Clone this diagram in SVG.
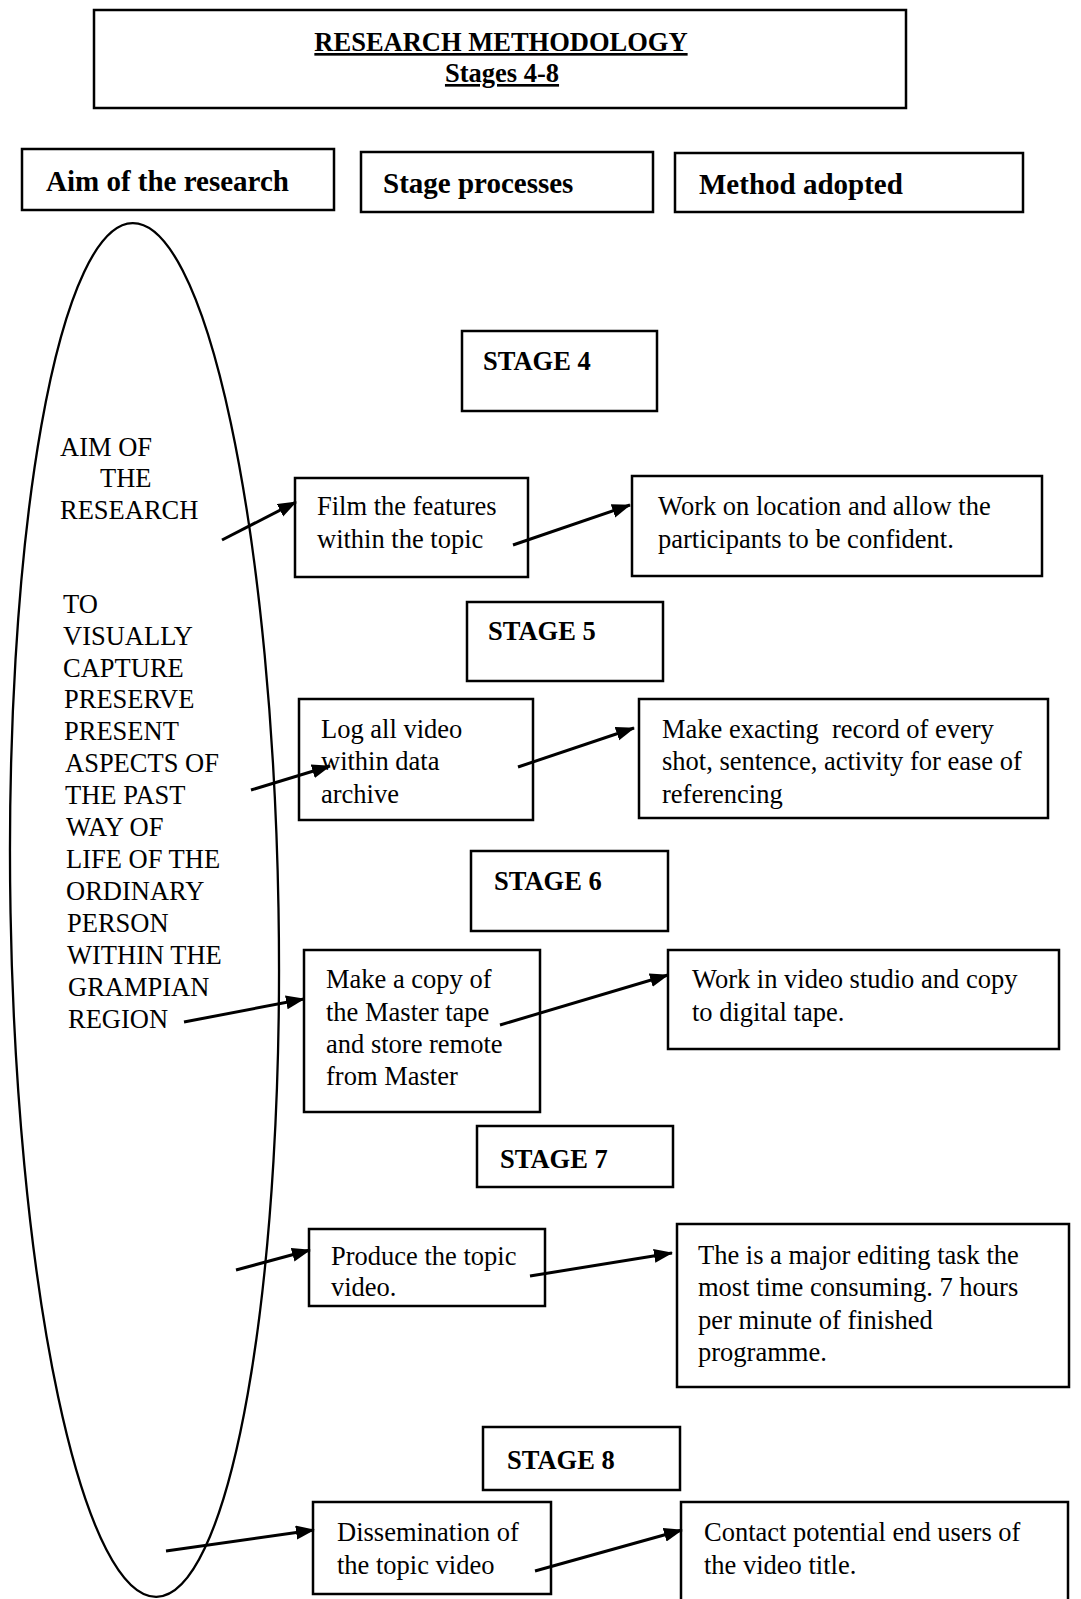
<svg xmlns="http://www.w3.org/2000/svg" width="1081" height="1599" viewBox="0 0 1081 1599">
<style>
.box{fill:#fff;stroke:#000;stroke-width:2.5}
.t{font-family:"Liberation Serif","Times New Roman",serif;font-size:26.5px;fill:#000}
.b{font-family:"Liberation Serif","Times New Roman",serif;font-size:26.5px;font-weight:bold;fill:#000}
.h{font-family:"Liberation Serif","Times New Roman",serif;font-size:29px;font-weight:bold;fill:#000}
.arr{stroke:#000;stroke-width:3;fill:none;marker-end:url(#ah)}
</style>
<defs>
<marker id="ah" markerUnits="userSpaceOnUse" markerWidth="20" markerHeight="16" refX="18" refY="7" orient="auto">
<path d="M0,0 L19,7 L0,14 z" fill="#000"/>
</marker>
</defs>
<rect width="1081" height="1599" fill="#fff"/>

<g id="title">
<rect class="box" x="94" y="10" width="812" height="98"/>
<text class="b" x="501" y="51" text-anchor="middle" text-decoration="underline" font-size="27">RESEARCH METHODOLOGY</text>
<text class="b" x="502" y="82" text-anchor="middle" text-decoration="underline" font-size="27">Stages 4-8</text>
</g>

<g id="hdr-aim">
<rect class="box" x="22" y="149" width="312" height="61"/>
<text class="h" x="46" y="191">Aim of the research</text>
</g>
<g id="hdr-stage">
<rect class="box" x="361" y="152" width="292" height="60"/>
<text class="h" x="383" y="193">Stage processes</text>
</g>
<g id="hdr-method">
<rect class="box" x="675" y="153" width="348" height="59"/>
<text class="h" x="699" y="194">Method adopted</text>
</g>

<g id="aim">
<ellipse cx="144.5" cy="910" rx="134" ry="687" fill="none" stroke="#000" stroke-width="2.3" transform="rotate(-1 144.5 910)"/>
<text class="t" x="60" y="456">AIM OF</text>
<text class="t" x="100" y="487">THE</text>
<text class="t" x="60" y="519">RESEARCH</text>
<text class="t" x="63" y="613">TO</text>
<text class="t" x="63" y="645">VISUALLY</text>
<text class="t" x="63" y="677">CAPTURE</text>
<text class="t" x="64" y="708">PRESERVE</text>
<text class="t" x="64" y="740">PRESENT</text>
<text class="t" x="65" y="772">ASPECTS OF</text>
<text class="t" x="65" y="804">THE PAST</text>
<text class="t" x="66" y="836">WAY OF</text>
<text class="t" x="66" y="868">LIFE OF THE</text>
<text class="t" x="66" y="900">ORDINARY</text>
<text class="t" x="67" y="932">PERSON</text>
<text class="t" x="67" y="964">WITHIN THE</text>
<text class="t" x="68" y="996">GRAMPIAN</text>
<text class="t" x="68" y="1028">REGION</text>
</g>

<g id="stage4">
<rect class="box" x="462" y="331" width="195" height="80"/>
<text class="b" x="483" y="370">STAGE 4</text>
</g>
<g id="film">
<rect class="box" x="295" y="478" width="233" height="99"/>
<text class="t" x="317" y="515">Film the features</text>
<text class="t" x="317" y="548">within the topic</text>
</g>
<g id="location">
<rect class="box" x="632" y="476" width="410" height="100"/>
<text class="t" x="658" y="515">Work on location and allow the</text>
<text class="t" x="658" y="548">participants to be confident.</text>
</g>

<g id="stage5">
<rect class="box" x="467" y="602" width="196" height="79"/>
<text class="b" x="488" y="640">STAGE 5</text>
</g>
<g id="log">
<rect class="box" x="299" y="699" width="234" height="121"/>
<text class="t" x="321" y="738">Log all video</text>
<text class="t" x="321" y="770">within data</text>
<text class="t" x="321" y="803">archive</text>
</g>
<g id="record">
<rect class="box" x="639" y="699" width="409" height="119"/>
<text class="t" x="662" y="738" style="white-space:pre">Make exacting  record of every</text>
<text class="t" x="662" y="770">shot, sentence, activity for ease of</text>
<text class="t" x="662" y="803">referencing</text>
</g>

<g id="stage6">
<rect class="box" x="471" y="851" width="197" height="80"/>
<text class="b" x="494" y="890">STAGE 6</text>
</g>
<g id="copy">
<rect class="box" x="304" y="950" width="236" height="162"/>
<text class="t" x="326" y="988">Make a copy of</text>
<text class="t" x="326" y="1021">the Master tape</text>
<text class="t" x="326" y="1053">and store remote</text>
<text class="t" x="326" y="1085">from Master</text>
</g>
<g id="studio">
<rect class="box" x="668" y="950" width="391" height="99"/>
<text class="t" x="692" y="988">Work in video studio and copy</text>
<text class="t" x="692" y="1021">to digital tape.</text>
</g>

<g id="stage7">
<rect class="box" x="477" y="1126" width="196" height="61"/>
<text class="b" x="500" y="1168">STAGE 7</text>
</g>
<g id="produce">
<rect class="box" x="309" y="1229" width="236" height="77"/>
<text class="t" x="331" y="1265">Produce the topic</text>
<text class="t" x="331" y="1296">video.</text>
</g>
<g id="editing">
<rect class="box" x="677" y="1224" width="392" height="163"/>
<text class="t" x="698" y="1264">The is a major editing task the</text>
<text class="t" x="698" y="1296">most time consuming. 7 hours</text>
<text class="t" x="698" y="1329">per minute of finished</text>
<text class="t" x="698" y="1361">programme.</text>
</g>

<g id="stage8">
<rect class="box" x="483" y="1427" width="197" height="63"/>
<text class="b" x="507" y="1469">STAGE 8</text>
</g>
<g id="dissemination">
<rect class="box" x="313" y="1502" width="238" height="92"/>
<text class="t" x="337" y="1541">Dissemination of</text>
<text class="t" x="337" y="1574">the topic video</text>
</g>
<g id="contact">
<rect class="box" x="681" y="1502" width="387" height="110"/>
<text class="t" x="704" y="1541">Contact potential end users of</text>
<text class="t" x="704" y="1574">the video title.</text>
</g>

<g id="connectors">
<line class="arr" x1="222" y1="540" x2="296" y2="502"/>
<line class="arr" x1="513" y1="545" x2="630" y2="505"/>
<line class="arr" x1="251" y1="790" x2="330" y2="766"/>
<line class="arr" x1="518" y1="767" x2="634" y2="728"/>
<line class="arr" x1="184" y1="1022" x2="304" y2="999"/>
<line class="arr" x1="500" y1="1025" x2="668" y2="975"/>
<line class="arr" x1="236" y1="1270" x2="310" y2="1250"/>
<line class="arr" x1="530" y1="1276" x2="672" y2="1253"/>
<line class="arr" x1="166" y1="1551" x2="314" y2="1530"/>
<line class="arr" x1="535" y1="1571" x2="682" y2="1530"/>
</g>
</svg>
